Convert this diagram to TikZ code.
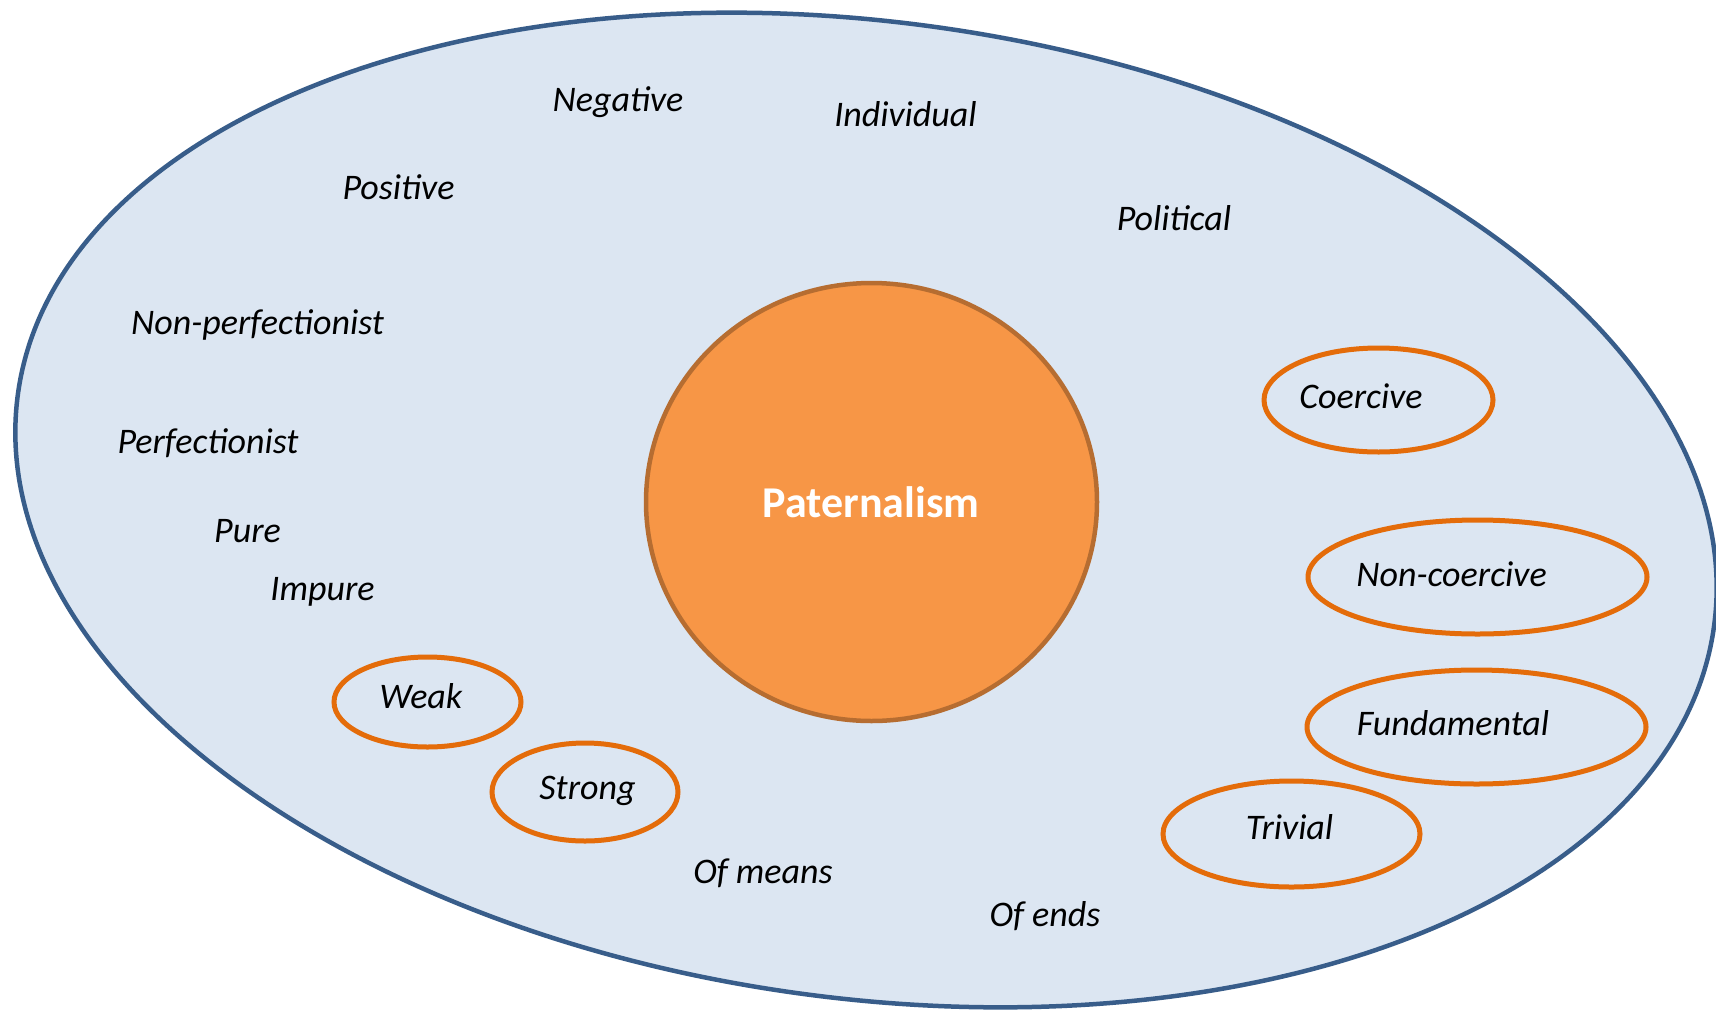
\documentclass[tikz,border=0pt]{standalone}
\usepackage{fontspec}
\setmainfont{Carlito}
\usetikzlibrary{shapes.geometric}
\definecolor{bgfill}{HTML}{DCE6F2}
\definecolor{bgline}{HTML}{385D8A}
\definecolor{ringline}{HTML}{E46C0A}
\definecolor{corefill}{HTML}{F79646}
\definecolor{coreline}{HTML}{B66D31}
\tikzset{
  lab/.style={anchor=base, inner sep=0pt, font=\itshape\fontsize{36}{43}\selectfont, text=black},
  ring/.style={ellipse, draw=ringline, line width=5pt, inner sep=0pt},
  core/.style={ellipse, draw=coreline, fill=corefill, line width=4.5pt, inner sep=0pt},
  coretext/.style={anchor=base, inner sep=0pt, font=\bfseries\fontsize{44}{52}\selectfont, text=white}
}
\begin{document}
\begin{tikzpicture}[x=1pt,y=-1pt]
\useasboundingbox (0,0) rectangle (1716,1010);
\clip (0,0) rectangle (1716,1010);
\fill[white] (0,0) rectangle (1716,1010);
% outer field
\draw[fill=bgfill, draw=bgline, line width=4.5pt, rotate around={-7.8:(866,510)}]
  (866,510) ellipse [x radius=856, y radius=488];
% central circle
\node[core, minimum width=451pt, minimum height=438pt] (core) at (871.5,502) {};
\node[coretext] (coretxt) at (871,517) {Paternalism};
% free labels
\node[lab] (negative) at (618,111) {Negative};
\node[lab] (individual) at (905.5,126) {Individual};
\node[lab] (positive) at (398.5,199) {Positive};
\node[lab] (political) at (1174,230) {Political};
\node[lab] (nonperf) at (257.5,334) {Non-perfectionist};
\node[lab] (perf) at (208,453) {Perfectionist};
\node[lab] (pure) at (247.5,542) {Pure};
\node[lab] (impure) at (322.5,600) {Impure};
\node[lab] (ofmeans) at (763,883) {Of means};
\node[lab] (ofends) at (1045,926) {Of ends};
% ringed labels
\node[ring, minimum width=229pt, minimum height=104pt] (coerciveoval) at (1378.5,400) {};
\node[lab] (coercive) at (1361,408) {Coercive};
\node[ring, minimum width=339pt, minimum height=114pt] (noncoerciveoval) at (1477.5,577) {};
\node[lab] (noncoercive) at (1451.5,586) {Non-coercive};
\node[ring, minimum width=339pt, minimum height=114pt] (fundamentaloval) at (1476.5,727) {};
\node[lab] (fundamental) at (1453,735) {Fundamental};
\node[ring, minimum width=257pt, minimum height=106pt] (trivialoval) at (1291.5,834) {};
\node[lab] (trivial) at (1289.5,839) {Trivial};
\node[ring, minimum width=187pt, minimum height=90pt] (weakoval) at (427.5,702) {};
\node[lab] (weak) at (421,708) {Weak};
\node[ring, minimum width=186pt, minimum height=98pt] (strongoval) at (585,792) {};
\node[lab] (strong) at (587.5,799) {Strong};
\end{tikzpicture}
\end{document}
